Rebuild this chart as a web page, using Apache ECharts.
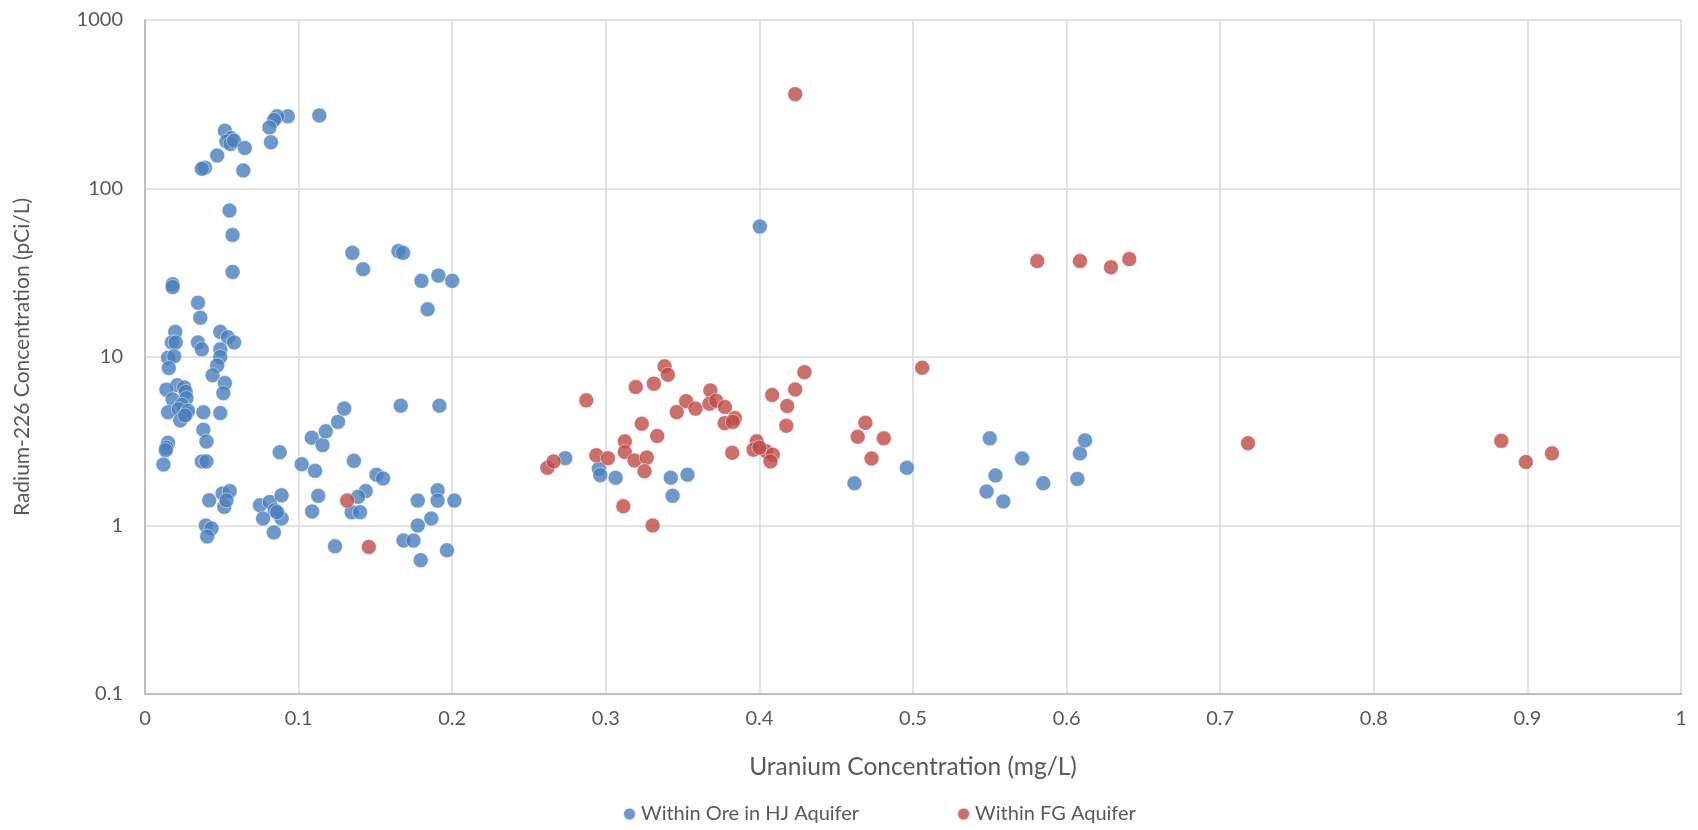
<!DOCTYPE html>
<html>
<head>
<meta charset="utf-8">
<title>Radium-226 vs Uranium</title>
<script src="https://cdn.jsdelivr.net/npm/echarts@6/dist/echarts.min.js"></script>
<style>
html, body { margin: 0; padding: 0; background: #fff; }
#main { width: 1698px; height: 830px; }
</style>
</head>
<body>
<div id="main"></div>
<script>
// [uranium mg/L, radium pCi/L]
var hjAquifer = [
	[0.1135, 271], [0.093, 268], [0.086, 268], [0.084, 255], [0.081, 230], [0.082, 188],
	[0.052, 220], [0.056, 199], [0.053, 190], [0.0557, 184], [0.058, 192], [0.065, 174],
	[0.047, 157], [0.039, 133], [0.037, 131], [0.064, 128],
	[0.055, 74], [0.057, 53], [0.057, 32], [0.018, 27], [0.018, 26],
	[0.135, 41.5], [0.142, 33.2], [0.165, 42.5], [0.168, 41.5], [0.180, 28.3], [0.191, 30.4],
	[0.200, 28.3], [0.184, 19.2], [0.4003, 59.4],
	[0.0345, 21], [0.036, 17.1], [0.0197, 14.1], [0.049, 14.1], [0.054, 13.1], [0.058, 12.2],
	[0.0175, 12.2], [0.020, 12.2], [0.0345, 12.2], [0.037, 11.1], [0.049, 11.1], [0.015, 9.9],
	[0.019, 10.1], [0.049, 10.0], [0.0155, 8.6], [0.047, 8.9], [0.044, 7.8], [0.052, 7.0],
	[0.021, 6.8], [0.0255, 6.6], [0.014, 6.4], [0.0265, 6.2], [0.018, 5.6], [0.027, 5.7],
	[0.024, 5.2], [0.051, 6.1], [0.015, 4.7], [0.022, 4.9], [0.027, 4.6], [0.028, 4.8],
	[0.023, 4.2], [0.026, 4.5], [0.038, 4.7], [0.049, 4.65], [0.038, 3.7], [0.040, 3.15],
	[0.015, 3.1], [0.014, 2.9], [0.0135, 2.8], [0.012, 2.3], [0.037, 2.4], [0.040, 2.4],
	[0.0418, 1.41], [0.0505, 1.55], [0.0552, 1.6], [0.0516, 1.29], [0.0531, 1.41],
	[0.0396, 1.0], [0.0433, 0.96], [0.0405, 0.86],
	[0.0748, 1.32], [0.0812, 1.38], [0.0889, 1.51], [0.0845, 1.23], [0.0769, 1.1],
	[0.0889, 1.1], [0.0839, 0.91], [0.086, 1.2],
	[0.0877, 2.72], [0.102, 2.31], [0.1107, 2.11], [0.1086, 3.32], [0.1156, 3.0], [0.1177, 3.62],
	[0.1257, 4.12], [0.1297, 4.94], [0.136, 2.42], [0.1507, 2.0], [0.155, 1.9], [0.1128, 1.5],
	[0.1088, 1.21], [0.1437, 1.6], [0.1387, 1.48], [0.1345, 1.2], [0.14, 1.2], [0.1237, 0.753],
	[0.1665, 5.14], [0.1917, 5.14], [0.1776, 1.405], [0.1905, 1.62], [0.1905, 1.405],
	[0.2014, 1.405], [0.1864, 1.1], [0.1776, 1.0], [0.1683, 0.814], [0.1748, 0.814],
	[0.1795, 0.623], [0.1966, 0.713],
	[0.2736, 2.51], [0.2955, 2.17], [0.2964, 1.99], [0.3064, 1.92], [0.3423, 1.92],
	[0.3532, 2.0], [0.3435, 1.5],
	[0.4619, 1.78], [0.496, 2.2], [0.55, 3.29], [0.571, 2.5], [0.5537, 1.98], [0.5479, 1.59],
	[0.5588, 1.39], [0.5848, 1.78], [0.607, 1.89], [0.6087, 2.68], [0.612, 3.2]
];
var fgAquifer = [
	[0.4233, 363], [0.2873, 5.53], [0.3195, 6.64], [0.3313, 6.95], [0.3383, 8.8], [0.3404, 7.85],
	[0.3462, 4.71], [0.3523, 5.47], [0.3584, 4.94], [0.3681, 6.33], [0.3675, 5.28], [0.3719, 5.5],
	[0.3776, 5.05], [0.384, 4.34], [0.3774, 4.05], [0.3827, 4.12], [0.3823, 2.7], [0.4083, 5.95],
	[0.4233, 6.42], [0.4293, 8.13], [0.4181, 5.12], [0.4175, 3.91], [0.3983, 3.16], [0.3962, 2.82],
	[0.4044, 2.76], [0.4087, 2.63], [0.4072, 2.4], [0.400, 2.9], [0.2938, 2.61], [0.3014, 2.51],
	[0.3124, 3.16], [0.3124, 2.73], [0.3187, 2.43], [0.3267, 2.53], [0.3252, 2.1], [0.3234, 4.02],
	[0.3335, 3.4], [0.3114, 1.3], [0.3305, 1.0], [0.262, 2.2], [0.266, 2.4], [0.1316, 1.405],
	[0.1457, 0.746], [0.506, 8.64], [0.469, 4.07], [0.464, 3.36], [0.481, 3.29], [0.473, 2.5],
	[0.5809, 37.1], [0.6087, 37.1], [0.6289, 34.1], [0.6408, 38.1],
	[0.7181, 3.08], [0.883, 3.18], [0.899, 2.38], [0.916, 2.68]
];
var seriesNames = ['Within Ore in HJ Aquifer', 'Within FG Aquifer'];
var xTicks = ['0', '0.1', '0.2', '0.3', '0.4', '0.5', '0.6', '0.7', '0.8', '0.9', '1'];
var yTicks = ['0.1', '1', '10', '100', '1000'];

var myChart = echarts.init(document.getElementById('main'));
var font = 'Lato, "Open Sans", sans-serif';
var option = {
	backgroundColor: '#ffffff',
	animation: false,
	textStyle: { fontFamily: font },
	grid: { left: 145, right: 17, top: 20, bottom: 136 },
	legend: {
		left: 617,
		bottom: 1,
		itemGap: 97,
		itemWidth: 13,
		itemHeight: 13,
		icon: 'circle',
		textStyle: { color: '#595959', fontSize: 20, fontFamily: font },
		data: seriesNames
	},
	xAxis: {
		type: 'value',
		min: 0,
		max: 1,
		interval: 0.1,
		name: 'Uranium Concentration (mg/L)',
		nameLocation: 'middle',
		nameGap: 61,
		nameTextStyle: { color: '#595959', fontSize: 24.5 },
		axisLine: { show: true, lineStyle: { color: '#bfbfbf', width: 2 } },
		axisTick: { show: false },
		axisLabel: {
			color: '#595959', fontSize: 20, margin: 15,
			formatter: function (v) { return xTicks[Math.round(v * 10)]; }
		},
		splitLine: { show: true, lineStyle: { color: '#d9d9d9', width: 1.5 } }
	},
	yAxis: {
		type: 'log',
		logBase: 10,
		min: 0.1,
		max: 1000,
		name: 'Radium-226 Concentration (pCi/L)',
		nameLocation: 'middle',
		nameGap: 112,
		nameTextStyle: { color: '#595959', fontSize: 21 },
		axisLine: { show: true, lineStyle: { color: '#bfbfbf', width: 2 } },
		axisTick: { show: false },
		axisLabel: {
			color: '#595959', fontSize: 20, margin: 22,
			formatter: function (v) {
				var i = Math.round(Math.log10(v)) + 1;
				return yTicks[i];
			}
		},
		splitLine: { show: true, lineStyle: { color: '#d9d9d9', width: 1.5 } }
	},
	series: [{
		name: seriesNames[0],
		type: 'scatter',
		symbol: 'circle',
		symbolSize: 15,
		itemStyle: { color: '#4a7ebb', borderColor: '#ffffff', borderWidth: 0.6 },
		data: hjAquifer
	}, {
		name: seriesNames[1],
		type: 'scatter',
		symbol: 'circle',
		symbolSize: 15,
		itemStyle: { color: '#be4b48', borderColor: '#ffffff', borderWidth: 0.6 },
		data: fgAquifer
	}]
};
myChart.setOption(option);
</script>
</body>
</html>
